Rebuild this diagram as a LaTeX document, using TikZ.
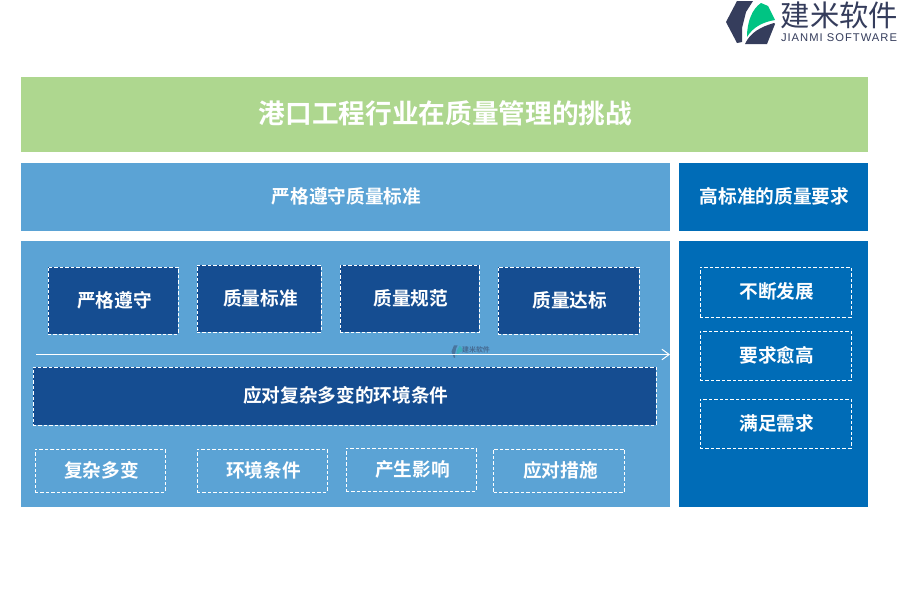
\documentclass[tikz,border=0pt]{standalone}
\usepackage{fontspec}
\usetikzlibrary{arrows.meta}
\setmainfont{Noto Sans CJK SC}
\newfontfamily\boldcjk{Noto Sans CJK SC Bold}
\newfontfamily\lightcjk{Noto Sans CJK SC}
\newfontfamily\latinfont[LetterSpace=9]{Liberation Sans}
\definecolor{titlegreen}{HTML}{AED78F}
\definecolor{paleblue}{HTML}{5BA3D5}
\definecolor{deepblue}{HTML}{006CB7}
\definecolor{navyblue}{HTML}{154D91}
\definecolor{logoslate}{HTML}{353D5C}
\definecolor{logogreen}{HTML}{00C483}
\def \px {0.75pt}
\tikzset{
  panel/.style={fill=#1, draw=none, inner sep=0pt, text=white, text height=11pt, text depth=1.8pt,
    execute at begin node=\hspace{1.5pt}, font=\boldcjk\fontsize{14}{16}\selectfont},
  dashbox/.style={draw=white, line width=0.75pt, dash pattern=on 2.6pt off 1.5pt,
    inner sep=0pt, text=white, text height=11pt, text depth=0.6pt,
    execute at begin node=\hspace{2pt}, font=\boldcjk\fontsize{14}{16}\selectfont},
  navybox/.style={dashbox, fill=navyblue},
}
\begin{document}
\begin{tikzpicture}[x=0.75pt, y=-0.75pt]
  \useasboundingbox (0,0) rectangle (900,600);
  \fill[white] (0,0) rectangle (900,600);
  % panels
  \node[panel=titlegreen, minimum width=847*\px, minimum height=75*\px, text height=15pt, text depth=2pt, font=\boldcjk\fontsize{20}{24}\selectfont] (title) at (444.5,114.5) {港口工程行业在质量管理的挑战};
  \node[panel=paleblue, minimum width=649*\px, minimum height=68*\px] (headleft) at (345.5,197) {严格遵守质量标准};
  \node[panel=deepblue, minimum width=189*\px, minimum height=68*\px] (headright) at (773.5,197) {高标准的质量要求};
  \node[panel=paleblue, minimum width=649*\px, minimum height=266*\px] (bodyleft) at (345.5,374) {};
  \node[panel=deepblue, minimum width=189*\px, minimum height=266*\px] (bodyright) at (773.5,374) {};
  % top row
  \node[navybox, minimum width=130*\px, minimum height=67*\px] (strict) at (113,300.5) {严格遵守};
  \node[navybox, minimum width=124*\px, minimum height=67*\px] (standard) at (259,298.5) {质量标准};
  \node[navybox, minimum width=139*\px, minimum height=67*\px] (rules) at (409.5,298.5) {质量规范};
  \node[navybox, minimum width=141*\px, minimum height=67*\px] (reach) at (568.5,300.5) {质量达标};
  % watermark
  \begin{scope}[shift={(454,345)}, xscale=0.23, yscale=0.3, opacity=0.45]
    \fill[logoslate] (0,1) -- (16,1) -- (9,12) -- (5,28) -- (5,42) -- (0,43) -- (-11,22) -- cycle;
    \fill[logogreen!70!paleblue] (10,37) -- (13,18) -- (24,3) -- (31,6) -- (38,20) -- (23,25) -- cycle;
  \end{scope}
  \node[text=logoslate, opacity=0.55, inner sep=0pt, font=\boldcjk\fontsize{5.2}{6}\selectfont] (markname) at (476,350) {建米软件};
  % arrow
  \coordinate (arrowstart) at (36,354.5);
  \coordinate (arrowend) at (670,354.5);
  \draw[white, line width=0.75pt, -{Straight Barb[length=5.5pt,width=8pt]}] (arrowstart) -- (arrowend);
  \node[navybox, minimum width=623*\px, minimum height=58*\px, text depth=1.8pt] (wide) at (344.5,396) {应对复杂多变的环境条件};
  % bottom row
  \node[dashbox, minimum width=130*\px, minimum height=43*\px] (change) at (100,470.5) {复杂多变};
  \node[dashbox, minimum width=130*\px, minimum height=43*\px] (env) at (262,470.5) {环境条件};
  \node[dashbox, minimum width=130*\px, minimum height=43*\px] (effect) at (411,469.5) {产生影响};
  \node[dashbox, minimum width=131*\px, minimum height=43*\px] (measure) at (559,470.5) {应对措施};
  % right column
  \node[dashbox, minimum width=151*\px, minimum height=50*\px] (develop) at (775.5,292) {不断发展};
  \node[dashbox, minimum width=151*\px, minimum height=49*\px] (higher) at (775.5,355.5) {要求愈高};
  \node[dashbox, minimum width=151*\px, minimum height=49*\px] (meet) at (775.5,423.5) {满足需求};
  % logo
  \fill[logoslate] (737,1) -- (753,1) -- (746,12) -- (742,28) -- (742,42) -- (737,43) -- (726,22) -- cycle;
  \fill[logoslate] (745,44) .. controls (750,33) and (760,27) .. (774,23) -- (775,24) -- (767,44) -- cycle;
  \fill[logogreen] (747,37) .. controls (747,22) and (752,9) .. (761,3) -- (768,6) -- (775,20) .. controls (763,22) and (753,27) .. (747,37) -- cycle;
  \node[text=logoslate, inner sep=0pt, font=\lightcjk\fontsize{22}{24}\selectfont] (logoname) at (839.5,15) {建米软件};
  \node[text=logoslate, inner sep=0pt, font=\latinfont\fontsize{8.4}{10}\selectfont] (logolatin) at (839,38) {JIANMI SOFTWARE};
\end{tikzpicture}
\end{document}
